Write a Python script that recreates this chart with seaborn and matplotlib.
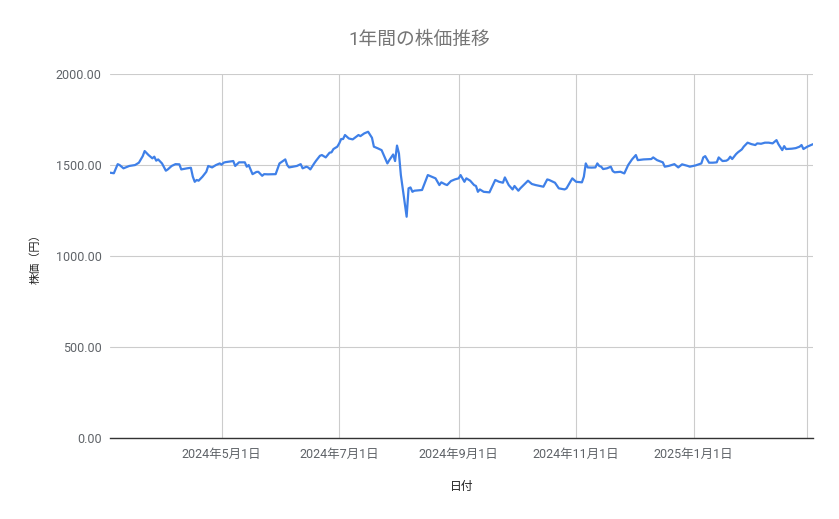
import pandas as pd
import matplotlib
matplotlib.use('Agg')
import matplotlib.pyplot as plt
import seaborn as sns

# 日付と終値（チャートから読み取り）
DATES = [
    '2024-03-04', '2024-03-06', '2024-03-08', '2024-03-09', '2024-03-11', '2024-03-14', '2024-03-17',
    '2024-03-19', '2024-03-21', '2024-03-22', '2024-03-24', '2024-03-26', '2024-03-27', '2024-03-28',
    '2024-03-29', '2024-03-31', '2024-04-02', '2024-04-03', '2024-04-05', '2024-04-07', '2024-04-09',
    '2024-04-10', '2024-04-13', '2024-04-15', '2024-04-16', '2024-04-17', '2024-04-18', '2024-04-19',
    '2024-04-21', '2024-04-23', '2024-04-24', '2024-04-26', '2024-04-28', '2024-04-30', '2024-05-01',
    '2024-05-02', '2024-05-03', '2024-05-07', '2024-05-08', '2024-05-10', '2024-05-13', '2024-05-14',
    '2024-05-15', '2024-05-17', '2024-05-19', '2024-05-20', '2024-05-22', '2024-05-23', '2024-05-25',
    '2024-05-29', '2024-05-31', '2024-06-03', '2024-06-04', '2024-06-05', '2024-06-07', '2024-06-09',
    '2024-06-11', '2024-06-12', '2024-06-14', '2024-06-15', '2024-06-16', '2024-06-18', '2024-06-19',
    '2024-06-21', '2024-06-22', '2024-06-24', '2024-06-26', '2024-06-27', '2024-06-28', '2024-06-30',
    '2024-07-01', '2024-07-02', '2024-07-03', '2024-07-04', '2024-07-06', '2024-07-08', '2024-07-11',
    '2024-07-12', '2024-07-14', '2024-07-16', '2024-07-18', '2024-07-19', '2024-07-21', '2024-07-23',
    '2024-07-26', '2024-07-27', '2024-07-29', '2024-07-30', '2024-07-31', '2024-08-01', '2024-08-02',
    '2024-08-05', '2024-08-06', '2024-08-07', '2024-08-08', '2024-08-09', '2024-08-13', '2024-08-16',
    '2024-08-18', '2024-08-20', '2024-08-22', '2024-08-23', '2024-08-25', '2024-08-26', '2024-08-28',
    '2024-08-30', '2024-09-01', '2024-09-02', '2024-09-04', '2024-09-05', '2024-09-07', '2024-09-09',
    '2024-09-10', '2024-09-11', '2024-09-12', '2024-09-14', '2024-09-17', '2024-09-20', '2024-09-22',
    '2024-09-24', '2024-09-25', '2024-09-27', '2024-09-29', '2024-09-30', '2024-10-02', '2024-10-03',
    '2024-10-07', '2024-10-09', '2024-10-11', '2024-10-15', '2024-10-17', '2024-10-18', '2024-10-21',
    '2024-10-23', '2024-10-26', '2024-10-27', '2024-10-30', '2024-11-01', '2024-11-04', '2024-11-05',
    '2024-11-06', '2024-11-07', '2024-11-09', '2024-11-11', '2024-11-12', '2024-11-13', '2024-11-14',
    '2024-11-15', '2024-11-17', '2024-11-19', '2024-11-20', '2024-11-21', '2024-11-24', '2024-11-26',
    '2024-11-28', '2024-11-30', '2024-12-02', '2024-12-03', '2024-12-06', '2024-12-10', '2024-12-11',
    '2024-12-13', '2024-12-16', '2024-12-17', '2024-12-19', '2024-12-22', '2024-12-24', '2024-12-26',
    '2024-12-29', '2024-12-30', '2025-01-02', '2025-01-05', '2025-01-06', '2025-01-07', '2025-01-09',
    '2025-01-11', '2025-01-13', '2025-01-14', '2025-01-16', '2025-01-18', '2025-01-19', '2025-01-20',
    '2025-01-21', '2025-01-23', '2025-01-24', '2025-01-26', '2025-01-27', '2025-01-29', '2025-01-31',
    '2025-02-02', '2025-02-03', '2025-02-05', '2025-02-07', '2025-02-09', '2025-02-11', '2025-02-13',
    '2025-02-14', '2025-02-16', '2025-02-17', '2025-02-18', '2025-02-21', '2025-02-23', '2025-02-25',
    '2025-02-26', '2025-02-27', '2025-03-01', '2025-03-04',
]
PRICES = [
    1458, 1455, 1505, 1500, 1482, 1495, 1500,
    1513, 1549, 1577, 1555, 1537, 1546, 1524,
    1531, 1509, 1469, 1476, 1495, 1505, 1504,
    1476, 1482, 1485, 1436, 1408, 1418, 1414,
    1436, 1463, 1495, 1487, 1500, 1509, 1502,
    1513, 1516, 1522, 1495, 1515, 1515, 1491,
    1500, 1450, 1462, 1463, 1441, 1450, 1449,
    1450, 1509, 1531, 1500, 1487, 1491, 1495,
    1505, 1482, 1491, 1486, 1476, 1509, 1524,
    1551, 1555, 1542, 1568, 1570, 1588, 1601,
    1619, 1643, 1643, 1665, 1646, 1641, 1665,
    1659, 1674, 1683, 1650, 1601, 1592, 1582,
    1509, 1527, 1558, 1522, 1607, 1564, 1445,
    1216, 1372, 1377, 1353, 1359, 1363, 1445,
    1436, 1427, 1390, 1405, 1394, 1390, 1412,
    1421, 1427, 1445, 1408, 1427, 1414, 1390,
    1385, 1353, 1366, 1353, 1350, 1418, 1408,
    1403, 1432, 1390, 1366, 1385, 1359, 1372,
    1414, 1396, 1390, 1381, 1421, 1418, 1403,
    1372, 1366, 1372, 1427, 1408, 1405, 1436,
    1509, 1487, 1486, 1487, 1509, 1495, 1491,
    1478, 1482, 1491, 1467, 1460, 1463, 1454,
    1500, 1531, 1555, 1527, 1531, 1533, 1542,
    1527, 1515, 1491, 1495, 1505, 1487, 1504,
    1495, 1491, 1498, 1509, 1542, 1549, 1513,
    1513, 1515, 1542, 1522, 1524, 1531, 1546,
    1533, 1560, 1570, 1586, 1601, 1623, 1615,
    1610, 1619, 1617, 1623, 1623, 1619, 1637,
    1615, 1582, 1604, 1588, 1590, 1593, 1601,
    1610, 1588, 1601, 1615,
]

TICK_DATES = ['2024-05-01', '2024-07-01', '2024-09-01', '2024-11-01', '2025-01-01', '2025-03-01']
TICK_LABELS = ['2024年5月1日', '2024年7月1日', '2024年9月1日', '2024年11月1日', '2025年1月1日', '']
Y_TICKS = [0, 500, 1000, 1500, 2000]

df = pd.DataFrame({'日付': pd.to_datetime(DATES), '株価': PRICES})

sns.set_style('white')
plt.rcParams['font.family'] = ['Roboto', 'Noto Sans CJK JP', 'DejaVu Sans']

fig = plt.figure(figsize=(8.39, 5.19), dpi=100)
ax = fig.add_axes([0.1311, 0.156, 0.838, 0.7013])

sns.lineplot(data=df, x='日付', y='株価', ax=ax, color='#3f80e8', linewidth=1.6)

ax.set_xlim(df['日付'].iloc[0], df['日付'].iloc[-1])
ax.set_ylim(0, 2000)
ax.set_yticks(Y_TICKS)
ax.set_yticklabels([f'{v:.2f}' for v in Y_TICKS])
ax.set_xticks(pd.to_datetime(TICK_DATES))
ax.set_xticklabels(TICK_LABELS)

ax.grid(True, color='#cccccc', linewidth=0.8)
ax.set_axisbelow(True)
for side in ['top', 'right', 'left']:
    ax.spines[side].set_visible(False)
ax.spines['bottom'].set_color('#333333')
ax.spines['bottom'].set_linewidth(1.0)
ax.spines['bottom'].set_zorder(3)

ax.tick_params(axis='both', length=0, labelsize=9, labelcolor='#5f6368')
ax.tick_params(axis='x', pad=7)
ax.tick_params(axis='y', pad=6)

ax.set_xlabel('日付', fontsize=8.5, color='#222222', labelpad=14)
ax.set_ylabel('株価（円）', fontsize=8, color='#222222', labelpad=11)

fig.suptitle('1年間の株価推移', x=0.5, y=0.94, fontsize=13.5, color='#757575')

fig.savefig('out.png', dpi=100)
